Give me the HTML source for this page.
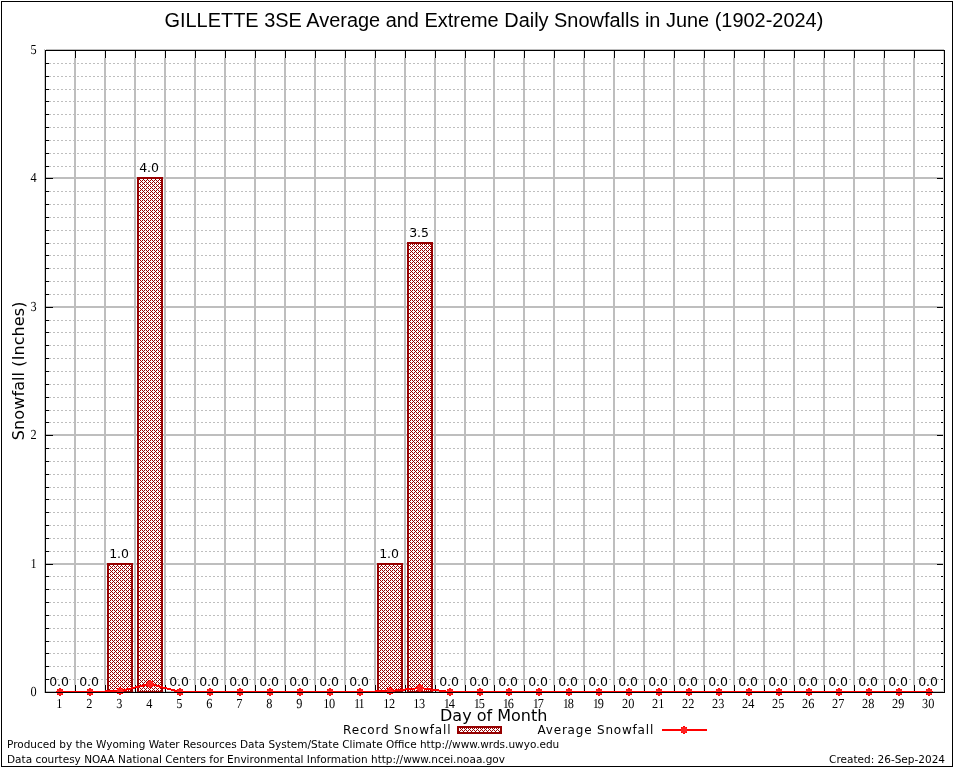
<!DOCTYPE html>
<html lang="en"><head><meta charset="utf-8"><title>GILLETTE 3SE Average and Extreme Daily Snowfalls in June (1902-2024)</title>
<style>html,body{margin:0;padding:0;background:#fff}svg{display:block}.t{font-family:"Liberation Sans",sans-serif;font-size:20px}.s{font-family:"Liberation Serif",serif;font-size:13.8px}.d{font-family:"DejaVu Sans","Liberation Sans",sans-serif}text{fill:#000}</style></head><body>
<svg width="954" height="768" viewBox="0 0 954 768">
<defs><pattern id="xh" x="0" y="0" width="4" height="4" patternUnits="userSpaceOnUse"><rect width="4" height="4" fill="#fff"/><path d="M0 0h1v1h-1zM2 0h1v1h-1zM1 1h1v1h-1zM0 2h1v1h-1zM2 2h1v1h-1zM3 3h1v1h-1z" fill="#960000"/></pattern><g id="pt"><rect x="-3" y="-3" width="6" height="6" fill="#ff2020"/><path fill="#ff0000" d="M-1-4h2v1h-2zM-1 3h2v1h-2zM-4-1h1v2h-1zM3-1h1v2h-1zM-3-3h1v1h-1zM2-3h1v1h-1zM-3 2h1v1h-1zM2 2h1v1h-1z"/></g></defs>
<rect width="954" height="768" fill="#fff"/>
<g shape-rendering="crispEdges">
<rect x="1.5" y="1.5" width="951" height="765" fill="none" stroke="#000" stroke-width="1"/>
<path d="M49 679.5H941M49 666.5H941M49 653.5H941M49 641.5H941M49 628.5H941M49 615.5H941M49 602.5H941M49 589.5H941M49 576.5H941M49 551.5H941M49 538.5H941M49 525.5H941M49 512.5H941M49 499.5H941M49 487.5H941M49 474.5H941M49 461.5H941M49 448.5H941M49 422.5H941M49 410.5H941M49 397.5H941M49 384.5H941M49 371.5H941M49 358.5H941M49 345.5H941M49 332.5H941M49 320.5H941M49 294.5H941M49 281.5H941M49 268.5H941M49 255.5H941M49 243.5H941M49 230.5H941M49 217.5H941M49 204.5H941M49 191.5H941M49 166.5H941M49 153.5H941M49 140.5H941M49 127.5H941M49 114.5H941M49 101.5H941M49 89.5H941M49 76.5H941M49 63.5H941" stroke="#bebebe" stroke-width="1" stroke-dasharray="2 2" fill="none"/>
<path d="M46 692H944M46 564H944M46 435H944M46 307H944M46 178H944M46 50H944" stroke="#bebebe" stroke-width="2" fill="none"/>
<path d="M75 58V685M105 58V685M135 58V685M165 58V685M195 58V685M225 58V685M255 58V685M285 58V685M315 58V685M345 58V685M375 58V685M405 58V685M435 58V685M465 58V685M494 58V685M524 58V685M554 58V685M584 58V685M614 58V685M644 58V685M674 58V685M704 58V685M734 58V685M764 58V685M794 58V685M824 58V685M854 58V685M884 58V685M914 58V685" stroke="#bebebe" stroke-width="2" fill="none"/>
<rect x="44" y="49" width="1" height="644" fill="#c6c6c6"/><rect x="943" y="51" width="1" height="641" fill="#d6d6d6"/>
<path d="M74.5 51V58M74.5 685V692M104.5 51V58M104.5 685V692M134.5 51V58M134.5 685V692M164.5 51V58M164.5 685V692M194.5 51V58M194.5 685V692M224.5 51V58M224.5 685V692M254.5 51V58M254.5 685V692M284.5 51V58M284.5 685V692M314.5 51V58M314.5 685V692M344.5 51V58M344.5 685V692M374.5 51V58M374.5 685V692M404.5 51V58M404.5 685V692M434.5 51V58M434.5 685V692M464.5 51V58M464.5 685V692M493.5 51V58M493.5 685V692M523.5 51V58M523.5 685V692M553.5 51V58M553.5 685V692M583.5 51V58M583.5 685V692M613.5 51V58M613.5 685V692M643.5 51V58M643.5 685V692M673.5 51V58M673.5 685V692M703.5 51V58M703.5 685V692M733.5 51V58M733.5 685V692M763.5 51V58M763.5 685V692M793.5 51V58M793.5 685V692M823.5 51V58M823.5 685V692M853.5 51V58M853.5 685V692M883.5 51V58M883.5 685V692M913.5 51V58M913.5 685V692" stroke="#e6e6e6" stroke-width="1" fill="none"/>
<path d="M75.5 50V58M75.5 685V693M105.5 50V58M105.5 685V693M135.5 50V58M135.5 685V693M165.5 50V58M165.5 685V693M195.5 50V58M195.5 685V693M225.5 50V58M225.5 685V693M255.5 50V58M255.5 685V693M285.5 50V58M285.5 685V693M315.5 50V58M315.5 685V693M345.5 50V58M345.5 685V693M375.5 50V58M375.5 685V693M405.5 50V58M405.5 685V693M435.5 50V58M435.5 685V693M465.5 50V58M465.5 685V693M494.5 50V58M494.5 685V693M524.5 50V58M524.5 685V693M554.5 50V58M554.5 685V693M584.5 50V58M584.5 685V693M614.5 50V58M614.5 685V693M644.5 50V58M644.5 685V693M674.5 50V58M674.5 685V693M704.5 50V58M704.5 685V693M734.5 50V58M734.5 685V693M764.5 50V58M764.5 685V693M794.5 50V58M794.5 685V693M824.5 50V58M824.5 685V693M854.5 50V58M854.5 685V693M884.5 50V58M884.5 685V693M914.5 50V58M914.5 685V693M45 692.5H53M937 692.5H943M45 679.5H49M941 679.5H943M45 666.5H49M941 666.5H943M45 653.5H49M941 653.5H943M45 641.5H49M941 641.5H943M45 628.5H49M941 628.5H943M45 615.5H49M941 615.5H943M45 602.5H49M941 602.5H943M45 589.5H49M941 589.5H943M45 576.5H49M941 576.5H943M45 564.5H53M937 564.5H943M45 551.5H49M941 551.5H943M45 538.5H49M941 538.5H943M45 525.5H49M941 525.5H943M45 512.5H49M941 512.5H943M45 499.5H49M941 499.5H943M45 487.5H49M941 487.5H943M45 474.5H49M941 474.5H943M45 461.5H49M941 461.5H943M45 448.5H49M941 448.5H943M45 435.5H53M937 435.5H943M45 422.5H49M941 422.5H943M45 410.5H49M941 410.5H943M45 397.5H49M941 397.5H943M45 384.5H49M941 384.5H943M45 371.5H49M941 371.5H943M45 358.5H49M941 358.5H943M45 345.5H49M941 345.5H943M45 332.5H49M941 332.5H943M45 320.5H49M941 320.5H943M45 307.5H53M937 307.5H943M45 294.5H49M941 294.5H943M45 281.5H49M941 281.5H943M45 268.5H49M941 268.5H943M45 255.5H49M941 255.5H943M45 243.5H49M941 243.5H943M45 230.5H49M941 230.5H943M45 217.5H49M941 217.5H943M45 204.5H49M941 204.5H943M45 191.5H49M941 191.5H943M45 178.5H53M937 178.5H943M45 166.5H49M941 166.5H943M45 153.5H49M941 153.5H943M45 140.5H49M941 140.5H943M45 127.5H49M941 127.5H943M45 114.5H49M941 114.5H943M45 101.5H49M941 101.5H943M45 89.5H49M941 89.5H943M45 76.5H49M941 76.5H943M45 63.5H49M941 63.5H943M45 50.5H53M937 50.5H943" stroke="#000" stroke-width="1" fill="none"/>
<rect x="108" y="564" width="24" height="128" fill="url(#xh)" stroke="#960000" stroke-width="2"/>
<rect x="138" y="178" width="24" height="514" fill="url(#xh)" stroke="#960000" stroke-width="2"/>
<rect x="378" y="564" width="24" height="128" fill="url(#xh)" stroke="#960000" stroke-width="2"/>
<rect x="408" y="243" width="24" height="449" fill="url(#xh)" stroke="#960000" stroke-width="2"/>
<polyline points="60,692 90,692 120,691 150,684 180,692 210,692 240,692 270,692 300,692 330,692 360,692 390,691 420,688 450,692 480,692 509,692 539,692 569,692 599,692 629,692 659,692 689,692 719,692 749,692 779,692 809,692 839,692 869,692 899,692 929,692" fill="none" stroke="#ff0000" stroke-width="2" stroke-linejoin="round"/>
<use href="#pt" x="60" y="692"/>
<use href="#pt" x="90" y="692"/>
<use href="#pt" x="120" y="691"/>
<use href="#pt" x="150" y="684"/>
<use href="#pt" x="180" y="692"/>
<use href="#pt" x="210" y="692"/>
<use href="#pt" x="240" y="692"/>
<use href="#pt" x="270" y="692"/>
<use href="#pt" x="300" y="692"/>
<use href="#pt" x="330" y="692"/>
<use href="#pt" x="360" y="692"/>
<use href="#pt" x="390" y="691"/>
<use href="#pt" x="420" y="688"/>
<use href="#pt" x="450" y="692"/>
<use href="#pt" x="480" y="692"/>
<use href="#pt" x="509" y="692"/>
<use href="#pt" x="539" y="692"/>
<use href="#pt" x="569" y="692"/>
<use href="#pt" x="599" y="692"/>
<use href="#pt" x="629" y="692"/>
<use href="#pt" x="659" y="692"/>
<use href="#pt" x="689" y="692"/>
<use href="#pt" x="719" y="692"/>
<use href="#pt" x="749" y="692"/>
<use href="#pt" x="779" y="692"/>
<use href="#pt" x="809" y="692"/>
<use href="#pt" x="839" y="692"/>
<use href="#pt" x="869" y="692"/>
<use href="#pt" x="899" y="692"/>
<use href="#pt" x="929" y="692"/>
<rect x="45.5" y="50.5" width="899" height="642" fill="none" stroke="#000" stroke-width="1"/>
<rect x="458" y="727" width="43" height="6" fill="url(#xh)" stroke="#960000" stroke-width="2"/>
<rect x="662" y="729" width="45" height="2" fill="#ff0000"/><use href="#pt" x="684" y="730"/>
</g>
<text class="t" transform="translate(493.9,26.8) rotate(0.01) scale(0.997,1.05)" text-anchor="middle">GILLETTE 3SE Average and Extreme Daily Snowfalls in June (1902-2024)</text>
<g class="s" text-anchor="end">
<text transform="translate(36.6,696) rotate(0.03) scale(0.89,1)">0</text>
<text transform="translate(36.6,568) rotate(0.03) scale(0.89,1)">1</text>
<text transform="translate(36.6,439) rotate(0.03) scale(0.89,1)">2</text>
<text transform="translate(36.6,311) rotate(0.03) scale(0.89,1)">3</text>
<text transform="translate(36.6,182) rotate(0.03) scale(0.89,1)">4</text>
<text transform="translate(36.6,54) rotate(0.03) scale(0.89,1)">5</text>
</g>
<g class="s" text-anchor="middle">
<text transform="translate(59.2,708) rotate(0.03) scale(0.89,1)">1</text>
<text transform="translate(89.2,708) rotate(0.03) scale(0.89,1)">2</text>
<text transform="translate(119.2,708) rotate(0.03) scale(0.89,1)">3</text>
<text transform="translate(149.2,708) rotate(0.03) scale(0.89,1)">4</text>
<text transform="translate(179.2,708) rotate(0.03) scale(0.89,1)">5</text>
<text transform="translate(209.2,708) rotate(0.03) scale(0.89,1)">6</text>
<text transform="translate(239.2,708) rotate(0.03) scale(0.89,1)">7</text>
<text transform="translate(269.2,708) rotate(0.03) scale(0.89,1)">8</text>
<text transform="translate(299.2,708) rotate(0.03) scale(0.89,1)">9</text>
<text letter-spacing="-0.6" transform="translate(328.96,708) rotate(0.03) scale(0.89,1)">10</text>
<text letter-spacing="-1.4" transform="translate(358.64,708) rotate(0.03) scale(0.89,1)">11</text>
<text letter-spacing="-0.6" transform="translate(388.96,708) rotate(0.03) scale(0.89,1)">12</text>
<text letter-spacing="-0.6" transform="translate(418.96,708) rotate(0.03) scale(0.89,1)">13</text>
<text letter-spacing="-1.4" transform="translate(448.64,708) rotate(0.03) scale(0.89,1)">14</text>
<text letter-spacing="-1.4" transform="translate(478.64,708) rotate(0.03) scale(0.89,1)">15</text>
<text letter-spacing="-1.4" transform="translate(507.64,708) rotate(0.03) scale(0.89,1)">16</text>
<text letter-spacing="-1.4" transform="translate(537.6400000000001,708) rotate(0.03) scale(0.89,1)">17</text>
<text letter-spacing="-1.4" transform="translate(567.6400000000001,708) rotate(0.03) scale(0.89,1)">18</text>
<text letter-spacing="-1.4" transform="translate(597.6400000000001,708) rotate(0.03) scale(0.89,1)">19</text>
<text transform="translate(628.2,708) rotate(0.03) scale(0.89,1)">20</text>
<text transform="translate(658.2,708) rotate(0.03) scale(0.89,1)">21</text>
<text transform="translate(688.2,708) rotate(0.03) scale(0.89,1)">22</text>
<text transform="translate(718.2,708) rotate(0.03) scale(0.89,1)">23</text>
<text transform="translate(748.2,708) rotate(0.03) scale(0.89,1)">24</text>
<text transform="translate(778.2,708) rotate(0.03) scale(0.89,1)">25</text>
<text transform="translate(808.2,708) rotate(0.03) scale(0.89,1)">26</text>
<text transform="translate(838.2,708) rotate(0.03) scale(0.89,1)">27</text>
<text transform="translate(868.2,708) rotate(0.03) scale(0.89,1)">28</text>
<text transform="translate(898.2,708) rotate(0.03) scale(0.89,1)">29</text>
<text transform="translate(928.2,708) rotate(0.03) scale(0.89,1)">30</text>
</g>
<g class="d" font-size="12.5" text-anchor="middle">
<text x="59.1" y="686">0.0</text>
<text x="89.1" y="686">0.0</text>
<text x="119.1" y="558">1.0</text>
<text x="149.1" y="172">4.0</text>
<text x="179.1" y="686">0.0</text>
<text x="209.1" y="686">0.0</text>
<text x="239.1" y="686">0.0</text>
<text x="269.1" y="686">0.0</text>
<text x="299.1" y="686">0.0</text>
<text x="329.1" y="686">0.0</text>
<text x="359.1" y="686">0.0</text>
<text x="389.1" y="558">1.0</text>
<text x="419.1" y="237">3.5</text>
<text x="449.1" y="686">0.0</text>
<text x="479.1" y="686">0.0</text>
<text x="508.1" y="686">0.0</text>
<text x="538.1" y="686">0.0</text>
<text x="568.1" y="686">0.0</text>
<text x="598.1" y="686">0.0</text>
<text x="628.1" y="686">0.0</text>
<text x="658.1" y="686">0.0</text>
<text x="688.1" y="686">0.0</text>
<text x="718.1" y="686">0.0</text>
<text x="748.1" y="686">0.0</text>
<text x="778.1" y="686">0.0</text>
<text x="808.1" y="686">0.0</text>
<text x="838.1" y="686">0.0</text>
<text x="868.1" y="686">0.0</text>
<text x="898.1" y="686">0.0</text>
<text x="928.1" y="686">0.0</text>
</g>
<text class="d" font-size="16" text-anchor="middle" x="493.7" y="720.5">Day of Month</text>
<text class="d" font-size="16" text-anchor="middle" letter-spacing="0.1" transform="translate(24,370.8) rotate(-90)">Snowfall (Inches)</text>
<text class="d" font-size="12" letter-spacing="0.82" x="343.1" y="734">Record Snowfall</text>
<text class="d" font-size="12" letter-spacing="0.8" x="537.5" y="734">Average Snowfall</text>
<text class="d" font-size="10.5" x="7" y="748">Produced by the Wyoming Water Resources Data System/State Climate Office http://www.wrds.uwyo.edu</text>
<text class="d" font-size="10.5" x="7" y="763">Data courtesy NOAA National Centers for Environmental Information http://www.ncei.noaa.gov</text>
<text class="d" font-size="10.5" text-anchor="end" x="945" y="763">Created: 26-Sep-2024</text>
</svg></body></html>
